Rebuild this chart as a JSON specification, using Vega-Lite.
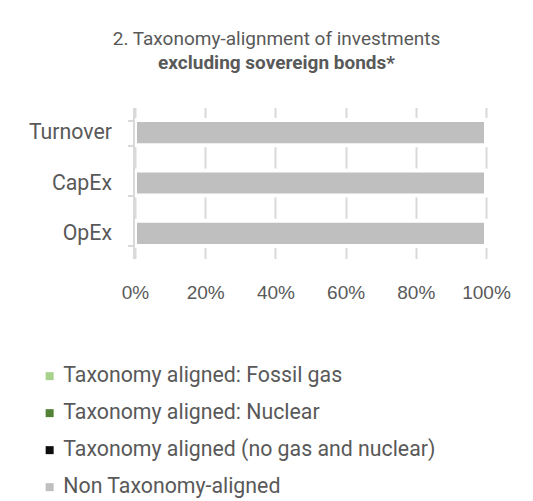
{
  "$schema": "https://vega.github.io/schema/vega-lite/v6.json",
  "autosize": "none",
  "width": 351,
  "height": 151,
  "padding": {"left": 135, "top": 107.5, "right": 47, "bottom": 242.5},
  "background": "white",
  "title": {
    "text": "2. Taxonomy-alignment of investments",
    "subtitle": "excluding sovereign bonds*",
    "font": "Roboto",
    "fontSize": 19,
    "fontWeight": "normal",
    "color": "#595959",
    "subtitleFont": "Roboto",
    "subtitleFontSize": 19,
    "subtitleFontWeight": "bold",
    "subtitleColor": "#595959",
    "subtitlePadding": 5,
    "anchor": "middle",
    "frame": "group",
    "dx": -34,
    "offset": 24
  },
  "data": {
    "values": [
      {"kpi": "Turnover", "category": "Taxonomy aligned: Fossil gas", "value": 0},
      {"kpi": "Turnover", "category": "Taxonomy aligned: Nuclear", "value": 0},
      {"kpi": "Turnover", "category": "Taxonomy aligned (no gas and nuclear)", "value": 0},
      {"kpi": "Turnover", "category": "Non Taxonomy-aligned", "value": 100},
      {"kpi": "CapEx", "category": "Taxonomy aligned: Fossil gas", "value": 0},
      {"kpi": "CapEx", "category": "Taxonomy aligned: Nuclear", "value": 0},
      {"kpi": "CapEx", "category": "Taxonomy aligned (no gas and nuclear)", "value": 0},
      {"kpi": "CapEx", "category": "Non Taxonomy-aligned", "value": 100},
      {"kpi": "OpEx", "category": "Taxonomy aligned: Fossil gas", "value": 0},
      {"kpi": "OpEx", "category": "Taxonomy aligned: Nuclear", "value": 0},
      {"kpi": "OpEx", "category": "Taxonomy aligned (no gas and nuclear)", "value": 0},
      {"kpi": "OpEx", "category": "Non Taxonomy-aligned", "value": 100}
    ]
  },
  "transform": [{"filter": "datum.value > 0"}],
  "mark": {"type": "bar", "stroke": "white", "strokeWidth": 4},
  "encoding": {
    "y": {
      "field": "kpi",
      "type": "nominal",
      "sort": ["Turnover", "CapEx", "OpEx"],
      "scale": {"paddingInner": 0.5, "paddingOuter": 0.25},
      "axis": {
        "title": null,
        "zindex": 1,
        "offset": 1.5,
        "domainColor": "#d9d9d9",
        "domainWidth": 2,
        "tickBand": "extent",
        "tickColor": "#d9d9d9",
        "tickWidth": 2,
        "tickSize": 6,
        "labelFont": "Roboto",
        "labelFontSize": 21.3,
        "labelColor": "#595959",
        "labelPadding": 16,
        "grid": false
      }
    },
    "x": {
      "field": "value",
      "type": "quantitative",
      "stack": "zero",
      "scale": {"domain": [0, 100], "nice": false},
      "axis": {
        "title": null,
        "zindex": 0,
        "values": [0, 20, 40, 60, 80, 100],
        "labelExpr": "datum.value + '%'",
        "domain": false,
        "ticks": false,
        "tickSize": 0,
        "grid": true,
        "gridColor": "#d9d9d9",
        "gridWidth": 2,
        "labelFont": "Liberation Sans",
        "labelFontSize": 19,
        "labelColor": "#595959",
        "labelPadding": 25,
        "labelFlush": false
      }
    },
    "color": {
      "field": "category",
      "type": "nominal",
      "scale": {
        "domain": ["Taxonomy aligned: Fossil gas", "Taxonomy aligned: Nuclear", "Taxonomy aligned (no gas and nuclear)", "Non Taxonomy-aligned"],
        "range": ["#a9d18e", "#548235", "#0d0d0d", "#bfbfbf"]
      },
      "legend": {
        "title": null,
        "orient": "none",
        "legendX": -96,
        "legendY": 258,
        "direction": "vertical",
        "padding": 0,
        "symbolType": "square",
        "symbolSize": 64,
        "symbolStrokeWidth": 0,
        "symbolOpacity": 1,
        "labelFont": "Roboto",
        "labelFontSize": 21.3,
        "labelColor": "#595959",
        "labelOffset": 3,
        "labelLimit": 400,
        "rowPadding": 15
      }
    }
  },
  "config": {"view": {"stroke": null}}
}
